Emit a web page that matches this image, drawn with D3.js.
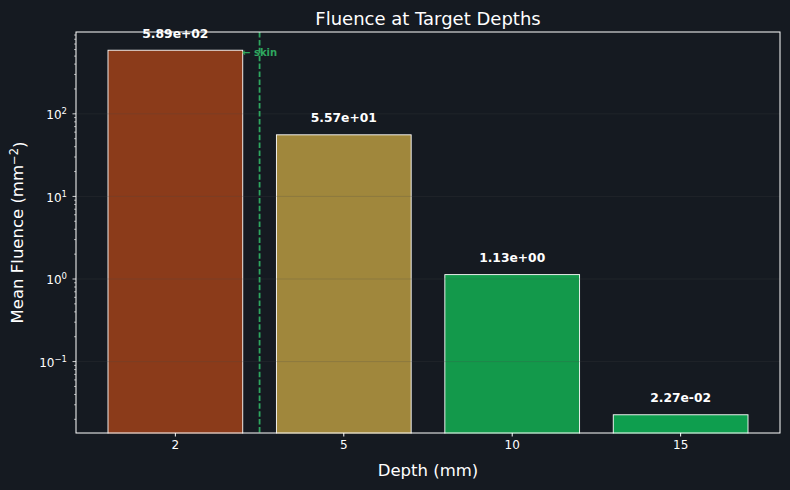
<!DOCTYPE html>
<html>
<head>
<meta charset="utf-8">
<script src="https://cdn.jsdelivr.net/npm/d3@7"></script>
<style>
  body { margin: 0; background: #151a21; }
  svg text { font-family: "DejaVu Sans", sans-serif; }
</style>
</head>
<body>
<div id="chart"></div>
<script>
// Data
const depths = ["2", "5", "10", "15"];
const fluence = [589, 55.7, 1.13, 0.0227];
const fluenceLabels = ["5.89e+02", "5.57e+01", "1.13e+00", "2.27e-02"];
const barColors = ["#8b3b1a", "#a0873c", "#13994b", "#0e9e4e"];
const yMajorExps = [-1, 0, 1, 2];
const skinPos = 0.5; // between first and second depth category

const W = 790, H = 490;
const margin = { top: 32, right: 10, bottom: 57, left: 76 },
    width = W - margin.left - margin.right,
    height = H - margin.top - margin.bottom;

const root = d3.select("#chart").append("svg")
    .attr("width", W).attr("height", H);
root.append("rect").attr("width", W).attr("height", H).attr("fill", "#151a21");

const svg = root.append("g")
    .attr("transform", `translate(${margin.left},${margin.top})`);

// Scales
const x = d3.scaleBand()
    .domain(depths)
    .range([0, width])
    .paddingInner(0.2)
    .paddingOuter(0.19);

const lo = Math.log10(d3.min(fluence)), hi = Math.log10(d3.max(fluence));
const pad = (hi - lo) * 0.05;
const y = d3.scaleLog()
    .domain([Math.pow(10, lo - pad), Math.pow(10, hi + pad)])
    .range([height, 0]);

// Bars
svg.selectAll("rect.bar").data(fluence).enter().append("rect")
    .attr("class", "bar")
    .attr("x", (d, i) => x(depths[i]))
    .attr("width", x.bandwidth())
    .attr("y", d => y(d))
    .attr("height", d => height - y(d) + 2)
    .attr("fill", (d, i) => barColors[i])
    .attr("stroke", "#ffffff")
    .attr("stroke-width", 0.9);

// Grid (drawn over bars, faint)
svg.selectAll("line.grid").data(yMajorExps).enter().append("line")
    .attr("class", "grid")
    .attr("x1", 0).attr("x2", width)
    .attr("y1", d => y(Math.pow(10, d))).attr("y2", d => y(Math.pow(10, d)))
    .attr("stroke", "#4a4a4a")
    .attr("stroke-opacity", 0.28)
    .attr("stroke-width", 0.8);

// cover bar stubs below the axis
svg.append("rect").attr("x", -1).attr("y", height + 0.5)
    .attr("width", width + 2).attr("height", 6).attr("fill", "#151a21");

// Skin marker line
const step = x.step();
const catCenter = v => x(depths[0]) + x.bandwidth() / 2 + v * step;
svg.append("line")
    .attr("x1", catCenter(skinPos)).attr("x2", catCenter(skinPos))
    .attr("y1", 0).attr("y2", height)
    .attr("stroke", "#2ea65f")
    .attr("stroke-width", 1.8)
    .attr("stroke-dasharray", "5.5,2.4");

svg.append("text")
    .attr("x", catCenter(skinPos))
    .attr("y", y(fluence[0]))
    .attr("dy", "0.6em")
    .attr("text-anchor", "middle")
    .attr("fill", "#2ea65f")
    .style("font-size", "10px")
    .style("font-weight", "bold")
    .text("← skin");

// Value labels
svg.selectAll("text.val").data(fluence).enter().append("text")
    .attr("class", "val")
    .attr("x", (d, i) => x(depths[i]) + x.bandwidth() / 2)
    .attr("y", d => y(d) - 12.5)
    .attr("text-anchor", "middle")
    .attr("fill", "#ffffff")
    .style("font-size", "12.3px")
    .style("font-weight", "bold")
    .text((d, i) => fluenceLabels[i]);

// Frame
svg.append("rect")
    .attr("x", 0).attr("y", 0).attr("width", width).attr("height", height)
    .attr("fill", "none").attr("stroke", "#ffffff").attr("stroke-width", 1);

// X axis
const xAxis = svg.append("g")
    .attr("transform", `translate(0,${height})`)
    .call(d3.axisBottom(x).tickSize(3.5).tickPadding(4));
xAxis.select(".domain").remove();
xAxis.selectAll("line").attr("stroke", "#ffffff");
xAxis.selectAll("text").attr("fill", "#ffffff").style("font-size", "12px");

// Y axis: minor ticks
const [d0, d1] = y.domain();
const minors = [];
for (let e = Math.floor(Math.log10(d0)); e <= Math.ceil(Math.log10(d1)); e++) {
    for (let m = 2; m <= 9; m++) {
        const v = m * Math.pow(10, e);
        if (v >= d0 && v <= d1) minors.push(v);
    }
}
svg.append("g").selectAll("line").data(minors).enter().append("line")
    .attr("x1", -2).attr("x2", 0)
    .attr("y1", d => y(d)).attr("y2", d => y(d))
    .attr("stroke", "#ffffff").attr("stroke-width", 0.6);

const yTicks = svg.append("g");
yTicks.selectAll("line").data(yMajorExps).enter().append("line")
    .attr("x1", -3.5).attr("x2", 0)
    .attr("y1", d => y(Math.pow(10, d))).attr("y2", d => y(Math.pow(10, d)))
    .attr("stroke", "#ffffff").attr("stroke-width", 0.8);

const lab = yTicks.selectAll("text").data(yMajorExps).enter().append("text")
    .attr("x", -9)
    .attr("y", d => y(Math.pow(10, d)))
    .attr("dy", "0.45em")
    .attr("text-anchor", "end")
    .attr("fill", "#ffffff")
    .style("font-size", "12px");
lab.append("tspan").text("10");
lab.append("tspan")
    .attr("dy", "-0.6em")
    .style("font-size", "8.5px")
    .text(d => String(d).replace("-", "\u2212"));

// Titles
root.append("text")
    .attr("x", margin.left + width / 2).attr("y", 25)
    .attr("text-anchor", "middle").attr("fill", "#ffffff")
    .style("font-size", "18px")
    .text("Fluence at Target Depths");

root.append("text")
    .attr("x", margin.left + width / 2).attr("y", 476)
    .attr("text-anchor", "middle").attr("fill", "#ffffff")
    .style("font-size", "16.5px")
    .text("Depth (mm)");

const yl = root.append("text")
    .attr("transform", `translate(23,${margin.top + height / 2}) rotate(-90)`)
    .attr("text-anchor", "middle").attr("fill", "#ffffff")
    .style("font-size", "16.5px");
yl.append("tspan").text("Mean Fluence (mm");
yl.append("tspan").attr("dy", "-0.45em").style("font-size", "11.5px").text("\u22122");
yl.append("tspan").attr("dy", "0.45em").text(")");
</script>
</body>
</html>
